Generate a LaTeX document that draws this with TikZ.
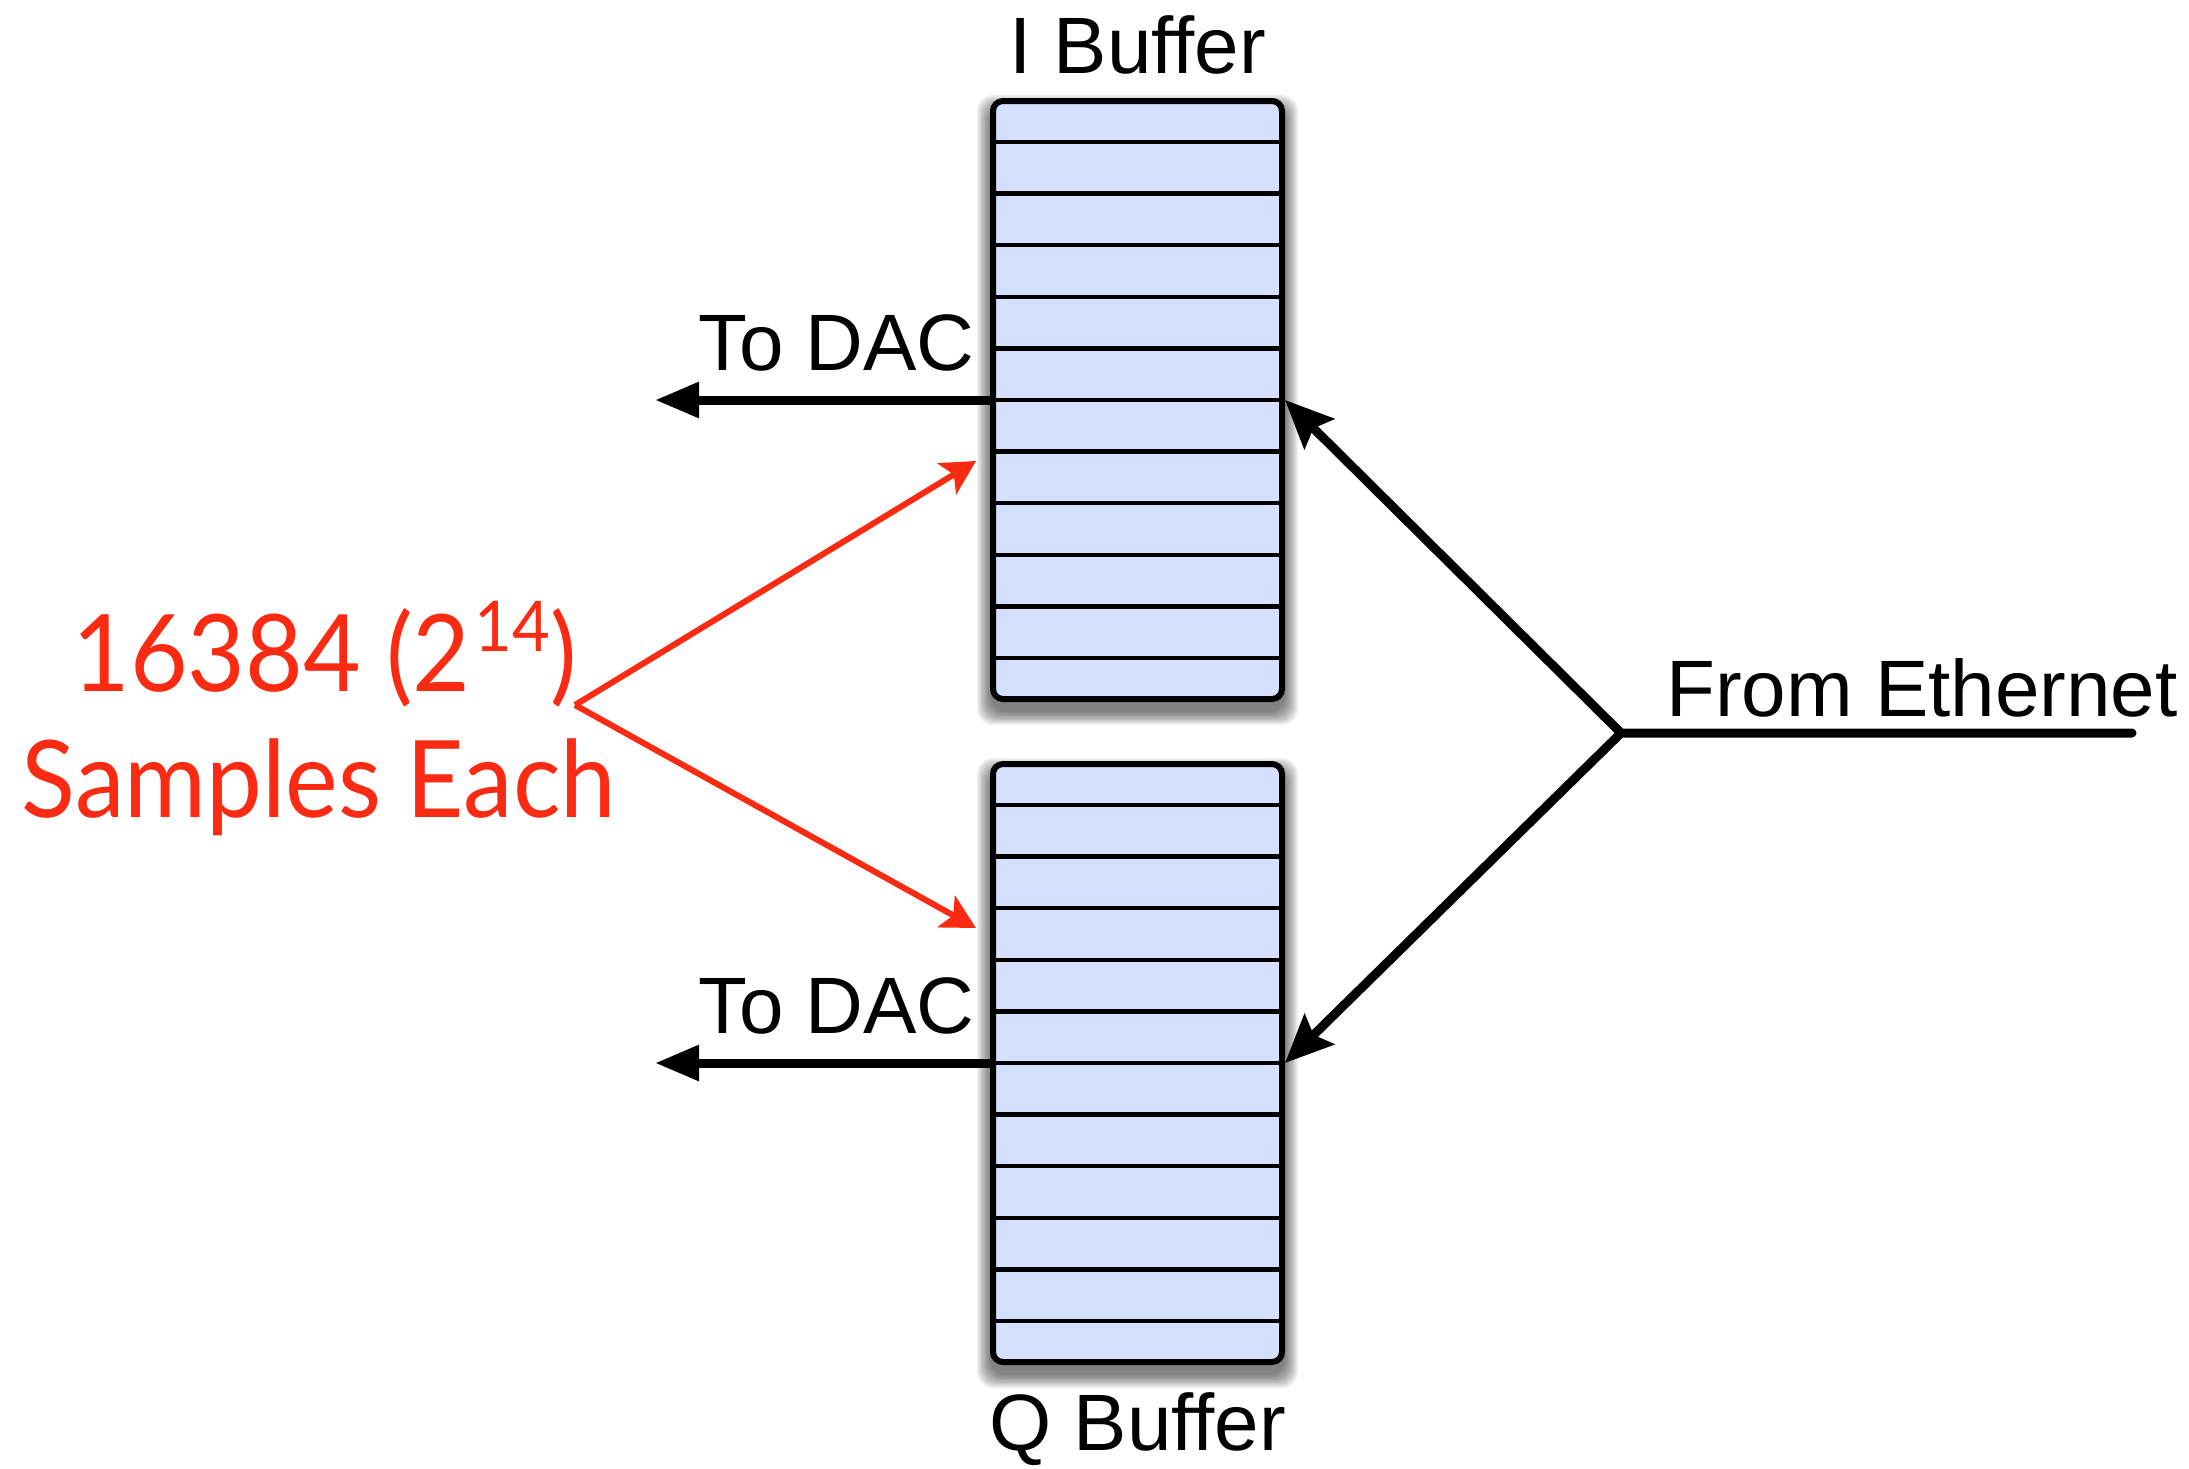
\documentclass[tikz,border=0pt]{standalone}
\usepackage{fontspec}
\setmainfont{Liberation Sans}
\newfontfamily\redfont[FakeStretch=0.93]{Lato}
\usetikzlibrary{arrows.meta}
\definecolor{bufblue}{RGB}{213,224,254}
\definecolor{annred}{RGB}{251,42,18}
\newcommand\bufshadow[2]{%
  \foreach \i in {0,...,10}{%
    \pgfmathsetmacro\e{13-\i*1.3}%
    \fill[black, opacity=0.06, rounded corners=8pt]
      ({990-\e},{#1+10-\e}) rectangle ({1285+\e},{#2+10+\e});
  }%
}
\tikzset{
  buf/.style={draw=black, line width=3pt, fill=bufblue, rounded corners=5pt,
    minimum width=144.5pt, minimum height=299pt, inner sep=0pt, outer sep=1.5pt},
  lbl/.style={font=\fontsize{40}{48}\selectfont, inner sep=0pt, anchor=base},
  redlbl/.style={font=\redfont\fontsize{53.5}{63}\selectfont, text=annred, inner sep=0pt, anchor=base},
  rowline/.style={line width=2.2pt},
  dacarrow/.style={line width=4.5pt, -{Triangle[length=22pt,width=17pt]}},
  etharrow/.style={line width=4.5pt, -{Stealth[length=24pt,width=21pt,inset=4pt]}},
  redarrow/.style={draw=annred, line width=3pt, -{Stealth[length=17pt,width=18pt,inset=4pt]}},
}
\begin{document}
\begin{tikzpicture}[x=0.5pt, y=-0.5pt]
\useasboundingbox (0,0) rectangle (2189,1468);
% shadows
\bufshadow{98}{702}
\bufshadow{761}{1365}
% buffers
\node[buf] (ibuf) at (1137.5,400) {};
\node[buf] (qbuf) at (1137.5,1063) {};
\foreach \k in {0,...,10}{
  \draw[rowline] ({993},{142+51.6*\k}) -- ({1282},{142+51.6*\k});
  \draw[rowline] ({993},{805+51.6*\k}) -- ({1282},{805+51.6*\k});
}
% labels
\node[lbl] (ilabel) at (1137.5,73) {I Buffer};
\node[lbl] (qlabel) at (1137.5,1450) {Q Buffer};
\node[lbl, anchor=base east] (dac1) at (975,370) {To DAC};
\node[lbl, anchor=base east] (dac2) at (975,1033) {To DAC};
\node[lbl, anchor=base west] (ethlbl) at (1666,716) {From Ethernet};
\node[redlbl] (red1) at (324.5,691) {16384 (2\kern2pt\raisebox{20pt}{\fontsize{35}{40}\selectfont 14})};
\node[redlbl] (red2) at (319,817) {Samples Each};
% coordinates
\coordinate (dacI) at (655,400);
\coordinate (dacQ) at (655,1063);
\coordinate (J) at (1621,733);
\coordinate (E) at (2132,733);
\coordinate (rv) at (575,705);
\coordinate (itgt) at (976,461);
\coordinate (qtgt) at (976,928);
% connectors
\draw[dacarrow] (ibuf.west) -- (dacI);
\draw[dacarrow] (qbuf.west) -- (dacQ);
\draw[etharrow, line cap=round, line join=miter] (E) -- (J) -- (ibuf.east);
\draw[etharrow, line join=miter] (J) -- (qbuf.east);
\draw[redarrow] (rv) -- (itgt);
\draw[redarrow] (rv) -- (qtgt);
\end{tikzpicture}
\end{document}
